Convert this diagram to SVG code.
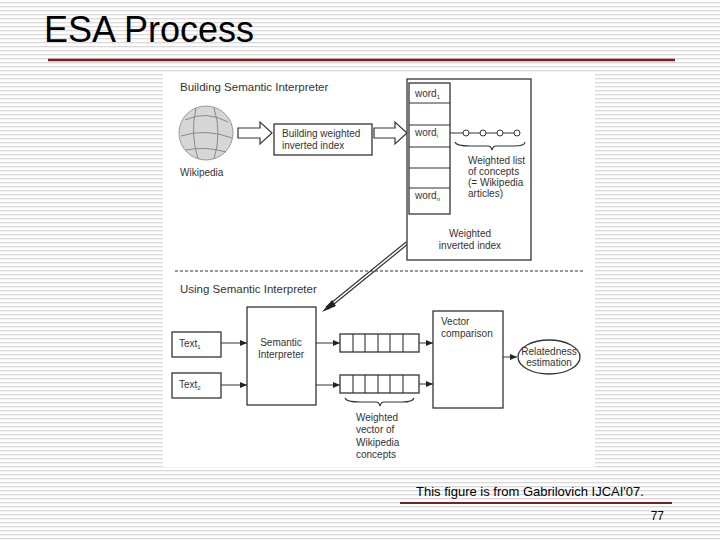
<svg xmlns="http://www.w3.org/2000/svg" width="720" height="540" viewBox="0 0 720 540">
<defs>
<pattern id="ln" width="8" height="4" patternUnits="userSpaceOnUse"><rect width="8" height="4" fill="#fff"/><rect y="2" width="8" height="1.3" fill="#d9d9d9"/></pattern>
<marker id="ah" markerWidth="8" markerHeight="8" refX="7" refY="4" orient="auto" markerUnits="userSpaceOnUse"><path d="M0,1 L7,4 L0,7 Z" fill="#222"/></marker>
</defs>
<style>
.t{font-family:"Liberation Sans",Arial,sans-serif;fill:#333;font-size:10px}
.h{font-size:11.5px}
.b{fill:#fff;stroke:#333;stroke-width:1.3}
.c{fill:none;stroke:#333;stroke-width:1.1}
.ar{stroke:#333;stroke-width:1;marker-end:url(#ah)}
.ho{fill:#fff;stroke:#333;stroke-width:1.2}
</style>
<rect width="720" height="540" fill="url(#ln)"/>
<text x="44" y="42" font-family="Liberation Sans,Arial,sans-serif" font-size="36" fill="#000">ESA Process</text>
<line x1="48" y1="60" x2="675" y2="60" stroke="#7a1f1f" stroke-width="2.5"/>
<rect x="163" y="73" width="432" height="394" fill="#fff"/>
<g id="title1"><text class="t h" x="180" y="91">Building Semantic Interpreter</text></g>
<g id="wikipedia">
<circle cx="206" cy="133" r="27" fill="#d6d6d6" stroke="#999"/>
<path d="M185,120 Q206,110 228,122 M181,136 Q206,128 232,138 M186,150 Q206,146 226,152 M196,108 Q190,133 198,159 M214,108 Q222,133 214,159" fill="none" stroke="#888" stroke-width="1"/>
<text class="t" x="180" y="176">Wikipedia</text>
</g>
<g id="connectors">
<path class="ho" d="M238,128 H260 V122 L272,133 L260,144 V138 H238 Z"/>
<path class="ho" d="M374,128 H395 V122 L407,133 L395,144 V138 H374 Z"/>
<line x1="407" y1="243" x2="327" y2="308" stroke="#333" stroke-width="4"/>
<line x1="407" y1="243" x2="327" y2="308" stroke="#fff" stroke-width="1.6"/>
<path d="M332,300 L322,312 L336,306 Z" fill="#222"/>
<line class="ar" x1="221" y1="343" x2="247" y2="343"/>
<line class="ar" x1="221" y1="385" x2="247" y2="385"/>
<line class="ar" x1="316" y1="343" x2="340" y2="343"/>
<line class="ar" x1="316" y1="385" x2="340" y2="385"/>
<line class="ar" x1="419" y1="343" x2="433" y2="343"/>
<line class="ar" x1="419" y1="384" x2="433" y2="384"/>
<line class="ar" x1="503" y1="357" x2="517" y2="357"/>
<line x1="175" y1="271" x2="585" y2="271" stroke="#333" stroke-dasharray="3,2"/>
</g>
<g id="build-index"><rect class="b" x="274" y="124" width="98" height="31"/><text class="t" x="282" y="137">Building weighted</text><text class="t" x="282" y="149">inverted index</text></g>
<g id="inverted-index">
<rect class="b" x="407" y="79" width="124" height="181"/>
<rect class="b" x="409" y="83" width="41" height="131"/>
<path class="c" d="M409,103 H450 M409,125 H450 M409,147 H450 M409,168 H450 M409,188 H450"/>
<text class="t" x="415" y="97">word<tspan font-size="6" dy="2">1</tspan></text>
<text class="t" x="415" y="136">word<tspan font-size="6" dy="2">i</tspan></text>
<text class="t" x="415" y="199">word<tspan font-size="6" dy="2">n</tspan></text>
<line class="c" x1="450" y1="133" x2="517" y2="133"/>
<g fill="#fff" stroke="#333"><circle cx="466" cy="133" r="3"/><circle cx="483" cy="133" r="3"/><circle cx="500" cy="133" r="3"/><circle cx="517" cy="133" r="3"/></g>
<path class="c" d="M455,142 Q456,146 470,146 L488,146 Q491,146 492,150 Q493,146 496,146 L514,146 Q525,146 525,142" stroke-width="0.9"/>
<text class="t" x="468" y="164" font-size="9">Weighted list</text>
<text class="t" x="468" y="175" font-size="9">of concepts</text>
<text class="t" x="468" y="186" font-size="9">(= Wikipedia</text>
<text class="t" x="468" y="197" font-size="9">articles)</text>
<text class="t" x="470" y="237" text-anchor="middle">Weighted</text>
<text class="t" x="470" y="249" text-anchor="middle">inverted index</text>
</g>
<g id="title2"><text class="t h" x="180" y="293">Using Semantic Interpreter</text></g>
<g id="text1"><rect class="b" x="172" y="332" width="49" height="25"/><text class="t" x="179" y="347">Text<tspan font-size="6" dy="2">1</tspan></text></g>
<g id="text2"><rect class="b" x="172" y="373" width="49" height="25"/><text class="t" x="179" y="388">Text<tspan font-size="6" dy="2">2</tspan></text></g>
<g id="semantic-interpreter"><rect class="b" x="247" y="307" width="69" height="98"/><text class="t" x="281" y="346" text-anchor="middle">Semantic</text><text class="t" x="281" y="358" text-anchor="middle">Interpreter</text></g>
<g id="vector1"><rect class="b" x="340" y="334" width="79" height="18"/><path class="c" d="M353,334 V352 M365,334 V352 M378,334 V352 M390,334 V352 M403,334 V352"/></g>
<g id="vector2"><rect class="b" x="340" y="375" width="79" height="18"/><path class="c" d="M353,375 V393 M365,375 V393 M378,375 V393 M390,375 V393 M403,375 V393"/>
<path class="c" d="M345,398 Q346,402 360,402 L376,402 Q379,402 380,406 Q381,402 384,402 L402,402 Q413,402 414,398" stroke-width="0.9"/>
<text class="t" x="356" y="421">Weighted</text><text class="t" x="356" y="433">vector of</text><text class="t" x="356" y="446">Wikipedia</text><text class="t" x="356" y="458">concepts</text></g>
<g id="vector-comparison"><rect class="b" x="433" y="311" width="70" height="97"/><text class="t" x="441" y="325">Vector</text><text class="t" x="441" y="337">comparison</text></g>
<g id="relatedness"><ellipse class="b" cx="549" cy="357" rx="31" ry="17"/><text class="t" x="549" y="355" text-anchor="middle" font-size="9">Relatedness</text><text class="t" x="549" y="366" text-anchor="middle" font-size="9">estimation</text></g>
<text x="416" y="496" font-family="Liberation Sans,Arial,sans-serif" font-size="13" fill="#000">This figure is from Gabrilovich IJCAI'07.</text>
<line x1="400" y1="503" x2="672" y2="503" stroke="#7a1f1f" stroke-width="2"/>
<text x="664" y="520" font-family="Liberation Sans,Arial,sans-serif" font-size="12" fill="#000" text-anchor="end">77</text>
</svg>
